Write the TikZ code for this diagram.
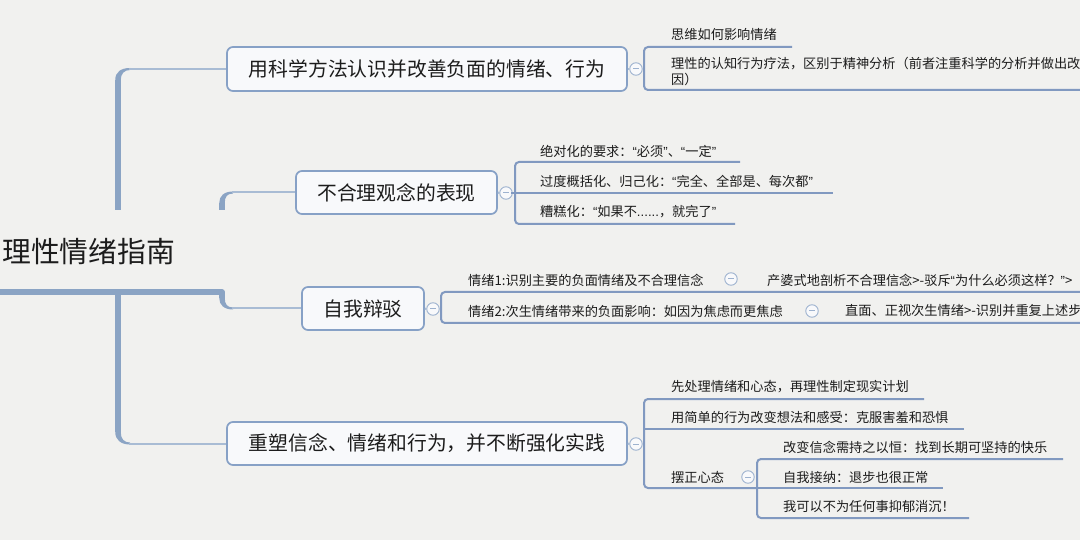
\documentclass[tikz,border=0pt]{standalone}
\usepackage{fontspec}
\newfontfamily\cjk{Noto Sans CJK SC}
\newfontfamily\lat{Liberation Sans}
\newcommand\qL{{\lat “}}
\newcommand\qR{{\lat ”}}
\definecolor{bgc}{HTML}{F1F1EF}
\definecolor{trunkc}{HTML}{8BA4C4}
\definecolor{connc}{HTML}{A9BCD4}
\definecolor{sublc}{HTML}{8199C0}
\definecolor{boxc}{HTML}{87A1C6}
\definecolor{boxfill}{HTML}{F8F9FB}
\definecolor{togc}{HTML}{9DB2CF}
\definecolor{txt}{HTML}{1C1C1C}
\begin{document}
\begin{tikzpicture}[x=1pt,y=-1pt,
  topic/.style={draw=boxc, fill=boxfill, line width=1.7pt, rounded corners=6pt,
    font=\cjk\fontsize{19.8}{24}\selectfont, text=txt, inner sep=0pt, align=center},
  rootnode/.style={font=\cjk\fontsize{28.8}{32}\selectfont, text=txt, inner sep=0pt, anchor=west},
  leaf/.style={font=\cjk\fontsize{13.2}{16.5}\selectfont, text=txt, inner sep=0pt, anchor=west, align=left},
  tog/.style={circle, draw=togc, fill=boxfill, line width=0.9pt, minimum size=12.5pt, inner sep=0pt,
    path picture={\draw[togc, line width=1pt] ([xshift=-3pt]path picture bounding box.center) -- ([xshift=3pt]path picture bounding box.center);}},
  trunk/.style={draw=trunkc, line width=5.5pt, line join=round},
  conn/.style={draw=connc, line width=2pt},
  subl/.style={draw=sublc, line width=2pt, rounded corners=4pt}
]
\clip (0,0) rectangle (1080,540);
\fill[bgc] (0,0) rectangle (1080,540);

% root and main topics
\node[rootnode] (root) at (2,252) {理性情绪指南};
\node[topic, minimum width=400pt, minimum height=44pt] (N1) at (427,69) {用科学方法认识并改善负面的情绪、行为};
\node[topic, minimum width=201pt, minimum height=43pt] (N2) at (396.5,192.5) {不合理观念的表现};
\node[topic, minimum width=122pt, minimum height=43pt] (N3) at (363,308.5) {自我辩驳};
\node[topic, minimum width=400pt, minimum height=43pt] (N4) at (427,443.5) {重塑信念、情绪和行为，并不断强化实践};

% trunk
\draw[trunk] (0,292) -- (222,292) -- (222,298);
\draw[trunk] (118,210) -- (118,80);
\fill[trunkc] (115.25,80) .. controls (115.25,72) and (121,68) .. (130,68) -- (130,70) .. controls (124,70) and (120.75,74) .. (120.75,80) -- cycle;
\draw[conn] (129,69) -- (N1.west);
\draw[trunk] (222,210) -- (222,203);
\fill[trunkc] (219.25,203) .. controls (219.25,196) and (224,191.5) .. (233,191.5) -- (233,193.5) .. controls (227,193.5) and (224.75,197) .. (224.75,203) -- cycle;
\draw[conn] (232,192.5) -- (N2.west);
\fill[trunkc] (219.25,298) .. controls (219.25,305) and (224,309.5) .. (233,309.5) -- (233,307.5) .. controls (227,307.5) and (224.75,304) .. (224.75,298) -- cycle;
\draw[conn] (232,308.5) -- (N3.west);
\draw[trunk] (118,292) -- (118,432);
\fill[trunkc] (115.25,432) .. controls (115.25,440) and (121,444.5) .. (130,444.5) -- (130,442.5) .. controls (124,442.5) and (120.75,439) .. (120.75,432) -- cycle;
\draw[conn] (129,443.5) -- (N4.west);

% toggles
\node[tog] (t1) at (636,69) {};
\node[tog] (t2) at (506,193) {};
\node[tog] (t3) at (433,309) {};
\node[tog] (t4) at (636,444) {};
\draw[conn] (N1.east) -- (t1.west);
\draw[conn] (N2.east) -- (t2.west);
\draw[conn] (N3.east) -- (t3.west);
\draw[conn] (N4.east) -- (t4.west);

% N1 children
\node[leaf] (a1) at (671,34) {思维如何影响情绪};
\node[leaf] (a2) at (671,71.5) {理性的认知行为疗法，区别于精神分析（前者注重科学的分析并做出改变\\因）};
\draw[subl] (792,47) -- (644,47) -- (644,90) -- (1085,90);
\draw[subl] (t1.east) -- (644,69);

% N2 children
\node[leaf] (b1) at (540,151) {绝对化的要求：\qL 必须\qR 、\qL 一定\qR};
\node[leaf] (b2) at (540,181.5) {过度概括化、归己化：\qL 完全、全部是、每次都\qR};
\node[leaf] (b3) at (540,212) {糟糕化：\qL 如果不{\lat ......}，就完了\qR};
\draw[subl] (740,162) -- (515,162) -- (515,224) -- (735,224);
\draw[subl] (t2.east) -- (515,193) -- (833,193);

% N3 children
\node[leaf] (c1) at (468,280) {情绪1:识别主要的负面情绪及不合理信念};
\node[tog] (tc1) at (731,279) {};
\node[leaf] (c1g) at (767,280) {产婆式地剖析不合理信念>-驳斥\qL 为什么必须这样？\qR>};
\node[leaf] (c2) at (468,311) {情绪2:次生情绪带来的负面影响：如因为焦虑而更焦虑};
\node[tog] (tc2) at (812,311) {};
\node[leaf] (c2g) at (845,311) {直面、正视次生情绪>-识别并重复上述步骤};
\draw[subl] (1085,292) -- (441,292) -- (441,323) -- (1085,323);
\draw[subl] (t3.east) -- (441,309);

% N4 children
\node[leaf] (d1) at (671,387) {先处理情绪和心态，再理性制定现实计划};
\node[leaf] (d2) at (671,417.5) {用简单的行为改变想法和感受：克服害羞和恐惧};
\node[leaf] (d3) at (671,477) {摆正心态};
\node[tog] (td3) at (748,477) {};
\draw[subl] (924,399) -- (644,399) -- (644,488) -- (757,488);
\draw[subl] (644,429) -- (964,429);
\draw[subl] (t4.east) -- (644,444);
\node[leaf] (e1) at (783,447) {改变信念需持之以恒：找到长期可坚持的快乐};
\node[leaf] (e2) at (783,477) {自我接纳：退步也很正常};
\node[leaf] (e3) at (783,507) {我可以不为任何事抑郁消沉！};
\draw[subl] (1063,459) -- (757,459) -- (757,518) -- (969,518);
\draw[subl] (757,488) -- (943,488);
\end{tikzpicture}
\end{document}
